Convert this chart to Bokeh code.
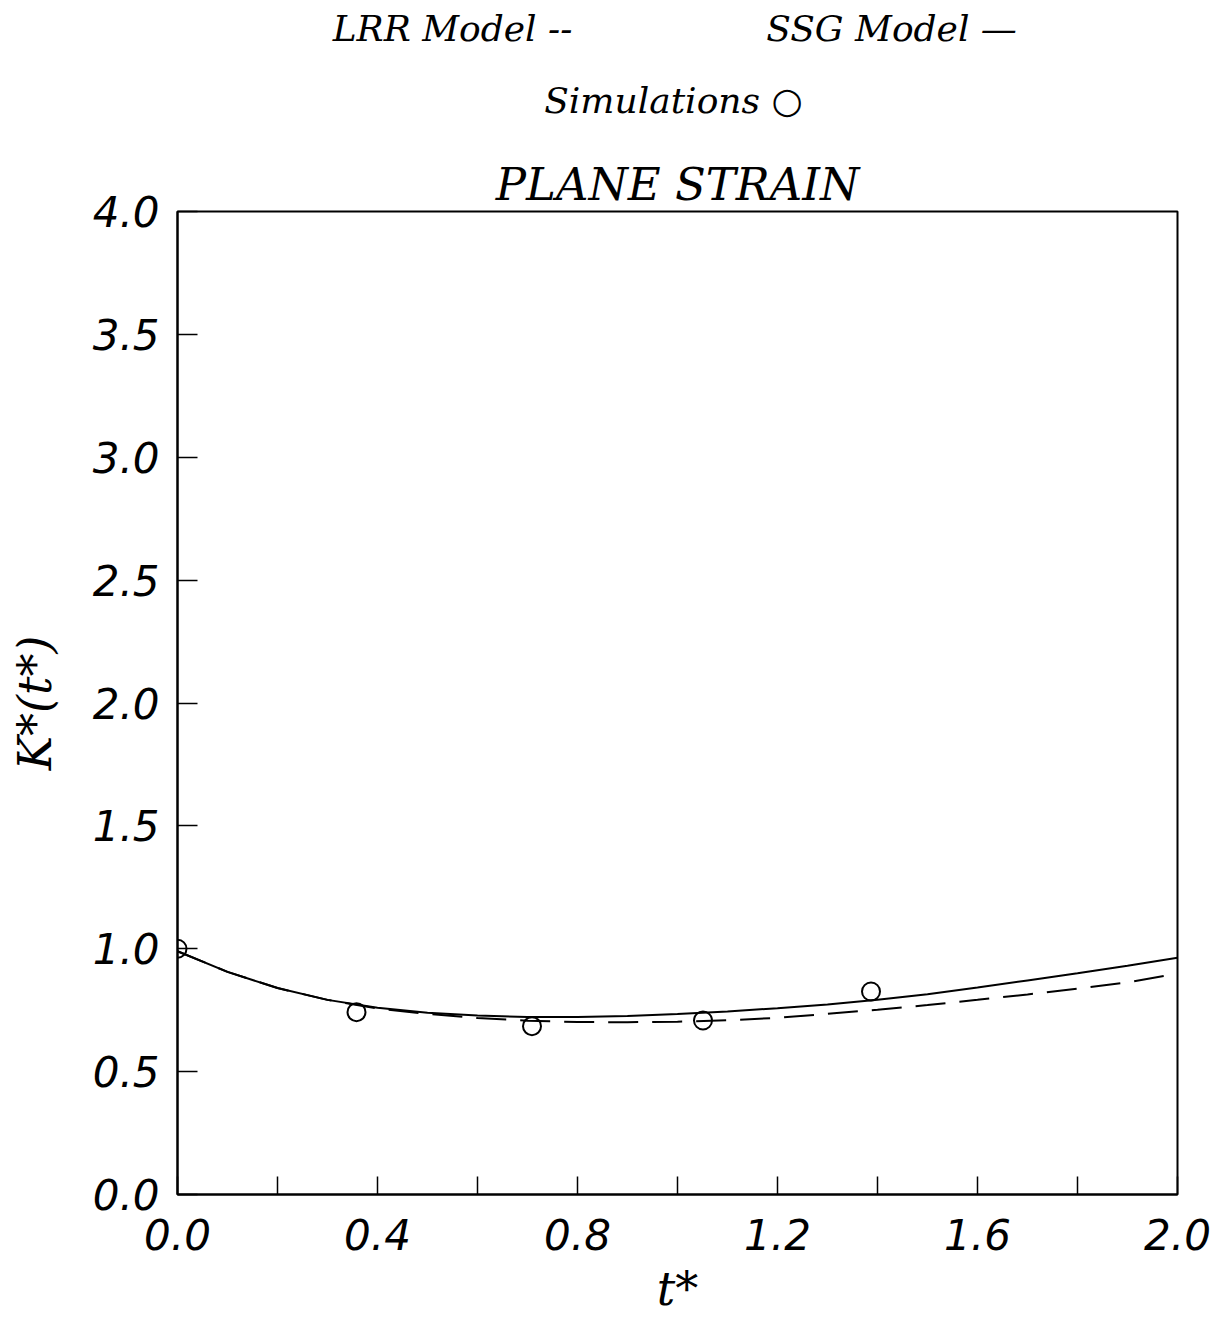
from bokeh.plotting import figure
from bokeh.layouts import column
from bokeh.models import Range1d, FixedTicker, Label, CustomJSTickFormatter
from bokeh.embed import file_html
from bokeh.resources import INLINE

# ---- data ----
t_ssg = [0.0, 0.1, 0.2, 0.3, 0.4, 0.5, 0.6, 0.7, 0.8, 0.9, 1.0,
         1.1, 1.2, 1.3, 1.4, 1.5, 1.6, 1.7, 1.8, 1.9, 2.0]
k_ssg = [0.99, 0.906, 0.840, 0.792, 0.760, 0.740, 0.728, 0.722, 0.722, 0.726, 0.734,
         0.745, 0.758, 0.773, 0.792, 0.815, 0.842, 0.871, 0.900, 0.931, 0.963]

t_lrr = [0.0, 0.1, 0.2, 0.3, 0.4, 0.5, 0.6, 0.7, 0.8, 0.9, 1.0,
         1.1, 1.2, 1.3, 1.4, 1.5, 1.6, 1.7, 1.8, 1.9, 1.975]
k_lrr = [0.99, 0.906, 0.840, 0.792, 0.757, 0.735, 0.718, 0.707, 0.702, 0.701, 0.703,
         0.709, 0.719, 0.735, 0.752, 0.771, 0.792, 0.814, 0.838, 0.863, 0.890]

t_sim = [0.0, 0.358, 0.709, 1.051, 1.387]
k_sim = [1.0, 0.742, 0.685, 0.708, 0.826]

x_major_ticks = [0.0, 0.4, 0.8, 1.2, 1.6, 2.0]
x_minor_ticks = [0.2, 0.6, 1.0, 1.4, 1.8]
y_ticks = [0.0, 0.5, 1.0, 1.5, 2.0, 2.5, 3.0, 3.5, 4.0]

title_text = "PLANE STRAIN"
legend_lrr = "LRR Model --"
legend_ssg = "SSG Model \u2014"
legend_sim = "Simulations \u25CB"
x_label = "t*"
y_label = "K*(t*)"

W = 1213
MAIN_TOP = 58
HEAD_H = 211 - MAIN_TOP
serif = "DejaVu Serif"

# ---- header figure (legend texts); its frame lines up with the main frame ----
head = figure(width=W, height=HEAD_H, output_backend="svg", toolbar_location=None,
              x_range=Range1d(177, 1177), y_range=Range1d(HEAD_H, 0),
              min_border=0, min_border_left=0, min_border_right=0,
              min_border_top=0, min_border_bottom=0)
head.axis.visible = False
head.grid.visible = False
head.outline_line_color = None
head.background_fill_color = "white"
head.border_fill_color = "white"

def head_label(x, y, text, size):
    head.add_layout(Label(x=x, y=y, text=text, text_font=serif, text_font_style="italic",
                          text_font_size=size, text_align="center",
                          text_baseline="middle", text_color="black"))

head_label(452, 28, legend_lrr, "36px")
head_label(891, 28, legend_ssg, "36px")
head_label(673, 100, legend_sim, "36px")

# ---- main figure ----
p = figure(width=W, height=MAIN_TOP + 983 + 128, output_backend="svg", toolbar_location=None,
           x_range=Range1d(0, 2), y_range=Range1d(0, 4),
           min_border_left=177, min_border_right=36, min_border_top=MAIN_TOP,
           min_border_bottom=128)
p.title.text = title_text
p.title.align = "center"
p.title.offset = 17
p.title.standoff = 2
p.title.text_font = serif
p.title.text_font_style = "italic"
p.title.text_font_size = "45px"
p.title.text_color = "black"
p.background_fill_color = "white"
p.border_fill_color = "white"
p.xgrid.visible = False
p.ygrid.visible = False
p.outline_line_color = "black"
p.outline_line_width = 2
p.outline_line_alpha = 1.0

tick_font = "DejaVu Sans"
for ax in (p.xaxis[0], p.yaxis[0]):
    ax.axis_line_width = 2
    ax.axis_line_color = "black"
    ax.major_tick_line_color = "black"
    ax.major_tick_line_width = 1.5
    ax.minor_tick_line_color = "black"
    ax.minor_tick_line_width = 1.5
    ax.major_tick_out = 0
    ax.minor_tick_out = 0
    ax.major_label_text_font = tick_font
    ax.major_label_text_font_style = "italic"
    ax.major_label_text_font_size = "42px"
    ax.major_label_text_color = "black"
    ax.formatter = CustomJSTickFormatter(code="return tick.toFixed(1);")
    ax.axis_label_text_font = serif
    ax.axis_label_text_font_style = "italic"
    ax.axis_label_text_font_size = "46px"
    ax.axis_label_text_color = "black"

p.xaxis.ticker = FixedTicker(ticks=x_major_ticks, minor_ticks=x_minor_ticks)
p.xaxis.major_tick_in = 18
p.xaxis.minor_tick_in = 18
p.xaxis.major_label_standoff = 24
p.xaxis.axis_label = x_label
p.xaxis.axis_label_standoff = 9

p.yaxis.ticker = FixedTicker(ticks=y_ticks, minor_ticks=[])
p.yaxis.major_tick_in = 20
p.yaxis.minor_tick_in = 0
p.yaxis.major_label_standoff = 18
p.yaxis.axis_label = y_label
p.yaxis.axis_label_standoff = 28

# ---- data glyphs ----
p.line(t_ssg, k_ssg, line_color="black", line_width=2)
p.line(t_lrr, k_lrr, line_color="black", line_width=2, line_dash="30 14")
p.scatter(t_sim, k_sim, marker="circle", size=18, fill_color=None,
          line_color="black", line_width=2)

layout = column(head, p, spacing=0)
open("out.html", "w").write(file_html(layout, INLINE))
